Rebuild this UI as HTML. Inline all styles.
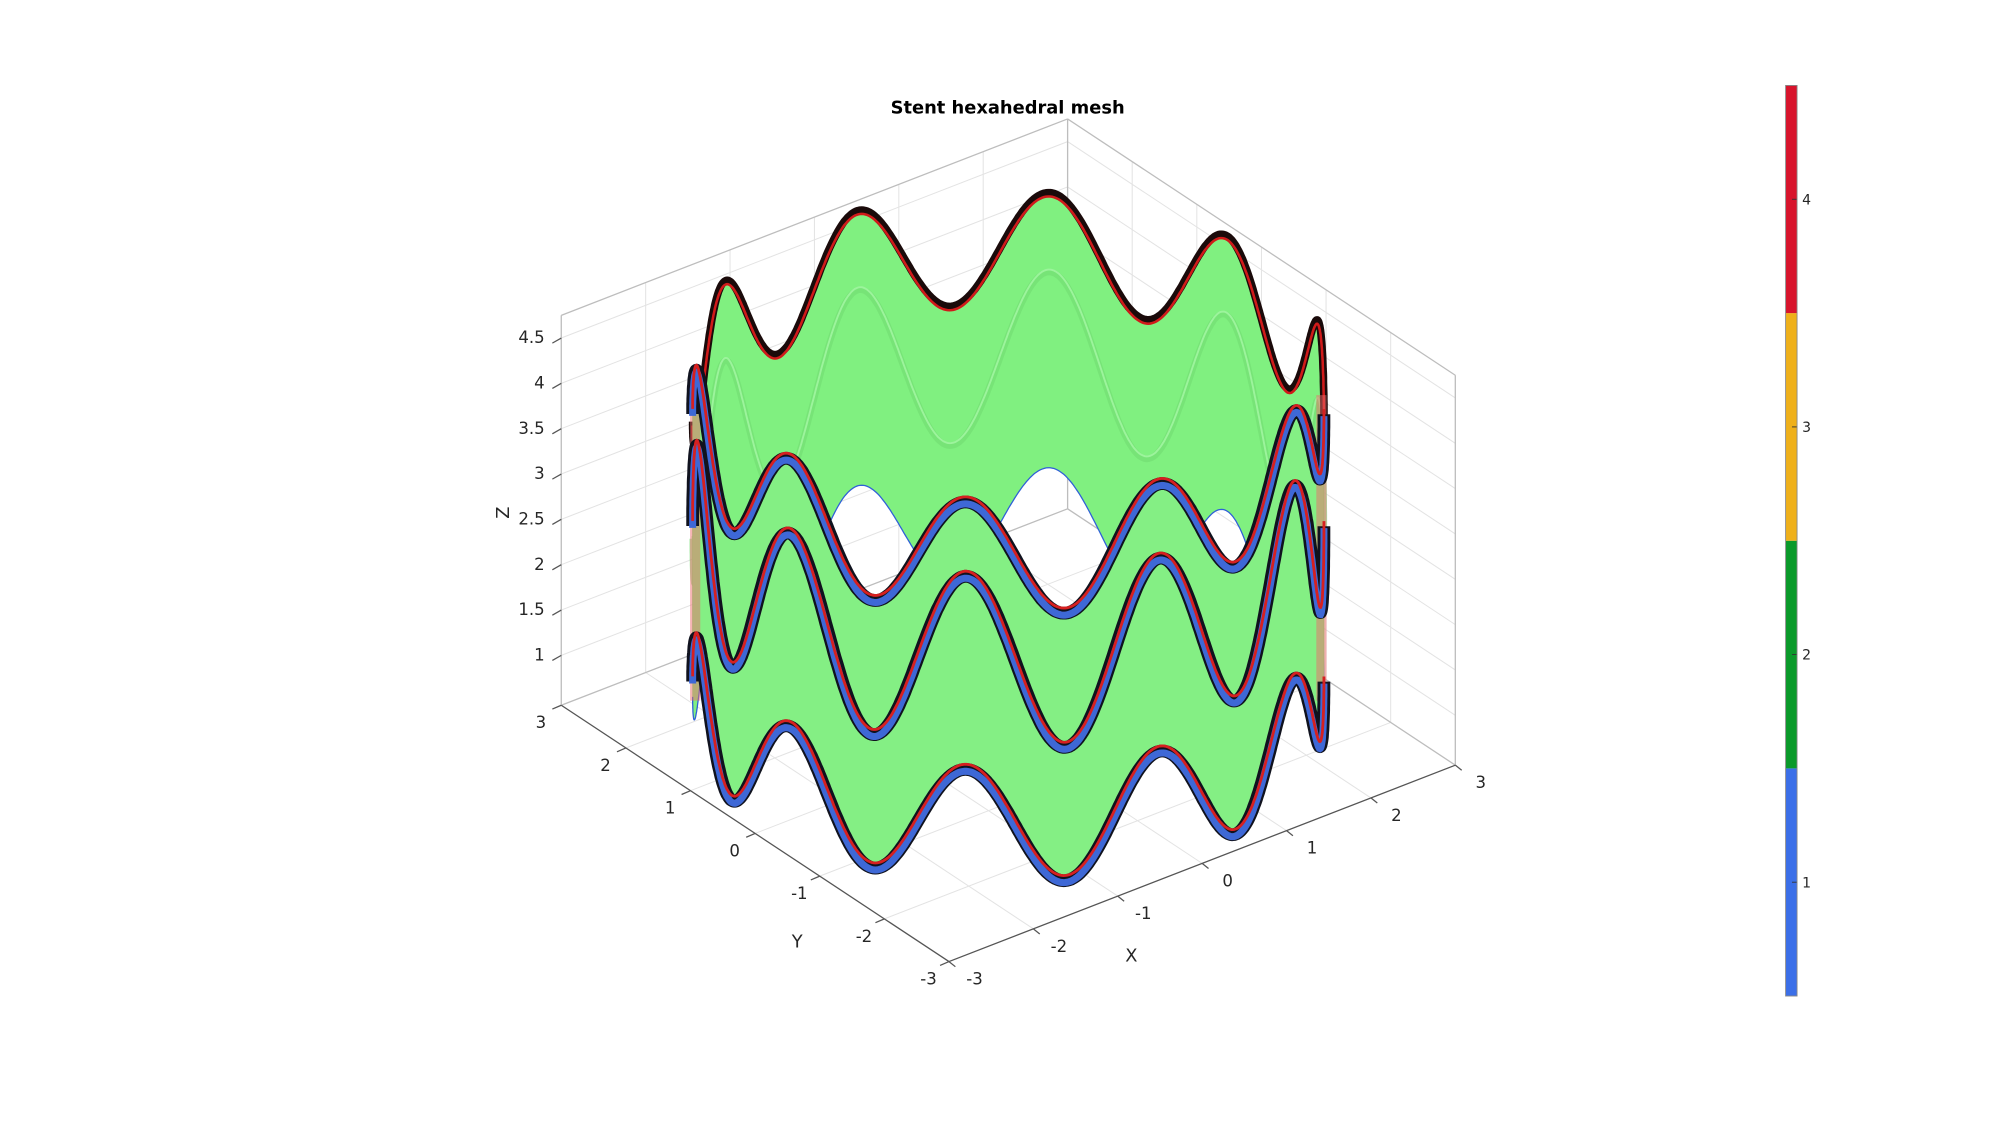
<!DOCTYPE html>
<html><head><meta charset="utf-8"><title>Stent hexahedral mesh</title>
<style>html,body{margin:0;padding:0;background:#fff;}svg{display:block;}</style></head>
<body>
<svg id="fig" width="2000" height="1121" viewBox="0 0 1568 879" xmlns="http://www.w3.org/2000/svg" font-family="'DejaVu Sans','Liberation Sans',sans-serif">
<rect width="1568" height="879" fill="#fff"/>
<g id="axes"></g>
<g id="stent"></g>
<g id="labels"></g>
<text x="790" y="89" text-anchor="middle" font-size="14" font-weight="bold" fill="#000">Stent hexahedral mesh</text>
<g id="cbar"></g>
</svg>
<script>
const xTicks = [-3,-2,-1,0,1,2,3];
const yTicks = [-3,-2,-1,0,1,2,3];
const zTicks = [1,1.5,2,2.5,3,3.5,4,4.5];
const zTickLabels = ['1','1.5','2','2.5','3','3.5','4','4.5'];
const ringZ = [1.2, 3.0, 4.15];
const ringAmp = [0.62, 0.95, 0.62];
const waveCount = [10];
const cbValues = [1,2,3,4];
const cbColors = ['#3b6fe8','#0a9a2a','#efb01a','#d8142c'];

const NS='http://www.w3.org/2000/svg';
const xlim=[-3,3], ylim=[-3,3], zlim=[0.45,4.75];
const O=[744,754], ex=[66.17,-25.67], ey=[-50.67,-33.5], ez=[0,-71.1];
function P(x,y,z){const a=x-xlim[0], b=y-ylim[0], c=z-zlim[0];
  return [O[0]+a*ex[0]+b*ey[0]+c*ez[0], O[1]+a*ex[1]+b*ey[1]+c*ez[1]];}
function mk(tag,attrs,parent){const e=document.createElementNS(NS,tag);for(const k in attrs)e.setAttribute(k,attrs[k]);parent.appendChild(e);return e;}
function line(p,q,st,w,parent,name){const e=mk('line',{x1:p[0],y1:p[1],x2:q[0],y2:q[1],stroke:st,'stroke-width':w},parent);
  
  return e;}

const ax=document.getElementById('axes');
const grid='#e3e3e3', box='#bdbdbd';
zTicks.forEach(z=>{
  line(P(-3,3,z),P(3,3,z),grid,0.8,ax,'z-grid-line');
  line(P(3,3,z),P(3,-3,z),grid,0.8,ax,'z-grid-line');
});
xTicks.forEach(x=>{
  line(P(x,3,zlim[0]),P(x,3,zlim[1]),grid,0.8,ax,'x-grid-line');
  line(P(x,-3,zlim[0]),P(x,3,zlim[0]),grid,0.8,ax,'x-grid-line');
});
yTicks.forEach(y=>{
  line(P(3,y,zlim[0]),P(3,y,zlim[1]),grid,0.8,ax,'y-grid-line');
  line(P(-3,y,zlim[0]),P(3,y,zlim[0]),grid,0.8,ax,'y-grid-line');
});
line(P(-3,3,zlim[1]),P(3,3,zlim[1]),box,1,ax,'box-edge');
line(P(3,3,zlim[1]),P(3,-3,zlim[1]),box,1,ax,'box-edge');
line(P(-3,3,zlim[0]),P(-3,3,zlim[1]),box,1,ax,'box-edge');
line(P(3,3,zlim[0]),P(3,3,zlim[1]),box,1,ax,'box-edge');
line(P(3,-3,zlim[0]),P(3,-3,zlim[1]),box,1,ax,'box-edge');
line(P(-3,3,zlim[0]),P(3,3,zlim[0]),box,1,ax,'box-edge');
line(P(3,3,zlim[0]),P(3,-3,zlim[0]),box,1,ax,'box-edge');
line(P(-3,3,zlim[0]),P(-3,-3,zlim[0]),'#555',1,ax,'y-axis-line');
line(P(-3,-3,zlim[0]),P(3,-3,zlim[0]),'#555',1,ax,'x-axis-line');

const lab=document.getElementById('labels');
function txt(s,x,y,name,anchor,extra){const t=mk('text',Object.assign({x:x,y:y,'font-size':13,fill:'#262626','text-anchor':anchor||'middle'},extra||{}),lab);t.textContent=s;
  
  return t;}
zTicks.forEach((z,i)=>{const p=P(-3,3,z);
  line(p,[p[0]-7,p[1]+4],'#555',1,ax,'z-tick');
  txt(zTickLabels[i],p[0]-13,p[1]+4,'z-tick-label','end');});
xTicks.forEach(x=>{const p=P(x,-3,zlim[0]);
  line(p,[p[0]+5,p[1]+4],'#555',1,ax,'x-tick');
  txt(String(x),p[0]+20,p[1]+18,'x-tick-label','middle');});
yTicks.forEach(y=>{const p=P(-3,y,zlim[0]);
  line(p,[p[0]-7,p[1]+3],'#555',1,ax,'y-tick');
  txt(String(y),p[0]-16,p[1]+18,'y-tick-label','middle');});
txt('X',887,754,'x-axis-title','middle',{'font-size':14});
txt('Y',625,743,'y-axis-title','middle',{'font-size':14});
txt('Z',399,402,'z-axis-title','middle',{'font-size':14,transform:'rotate(-90 399 402)'});

const st=document.getElementById('stent');
const R=2.97, TH0=232.5*Math.PI/180, PH=0.183, N=waveCount[0];
function ringPt(k,phi){const th=phi+TH0;
  const z=ringZ[k]-ringAmp[k]*Math.cos(N*(phi-PH));
  return P(R*Math.cos(th),R*Math.sin(th),z);}
function pts(k,a,b,n,dy){const out=[];for(let i=0;i<=n;i++){const f=a+(b-a)*i/n;const p=ringPt(k,f);out.push([p[0],p[1]+(dy||0)]);}return out;}
function pstr(arr){return arr.map(p=>p[0].toFixed(1)+','+p[1].toFixed(1)).join(' ');}
const H=Math.PI/2, NS_=500;
const bTop=pts(2,H,3*H,NS_,8), bBot=pts(0,3*H,H,NS_,12);
let e=mk('polygon',{points:pstr(bTop.concat(bBot)),fill:'#80f080',stroke:'#78e878','stroke-width':0.5},st);


e=mk('polyline',{points:pstr(pts(0,H,3*H,NS_,12)),fill:'none',stroke:'#2f5fd8','stroke-width':1},st);


e=mk('polyline',{points:pstr(pts(1,H,3*H,NS_,10)),fill:'none',stroke:'#72dc72','stroke-width':5,opacity:0.6},st);


e=mk('polyline',{points:pstr(pts(1,H,3*H,NS_,8)),fill:'none',stroke:'#9cf49c','stroke-width':1.5},st);


e=mk('polyline',{points:pstr(pts(2,H,3*H,NS_,6)),fill:'none',stroke:'#1a0a0a','stroke-width':6,'stroke-linejoin':'round'},st);


e=mk('polyline',{points:pstr(pts(2,H,3*H,NS_,9)),fill:'none',stroke:'#d01a1a','stroke-width':2},st);


const fTop=pts(2,-H,H,NS_), fBot=pts(0,H,-H,NS_);
e=mk('polygon',{points:pstr(fTop.concat(fBot)),fill:'#84ef84',stroke:'#76e076','stroke-width':0.5},st);


[-H,H].forEach((ph,i)=>{const a=ringPt(0,ph), b=ringPt(2,ph);
  const s=mk('rect',{x:a[0]-(i?6:2),y:Math.min(a[1],b[1])-15,width:8,height:Math.abs(a[1]-b[1])+30,fill:'#ee6b6b',opacity:0.5},st);
  
  });
for(let k=0;k<3;k++){
  e=mk('polyline',{points:pstr(pts(k,-H,H,NS_)),fill:'none',stroke:'#10121e','stroke-width':10,'stroke-linejoin':'round'},st);
  
  
  e=mk('polyline',{points:pstr(pts(k,-H,H,NS_,1.5)),fill:'none',stroke:'#3e68d6','stroke-width':5.5},st);
  
  
  e=mk('polyline',{points:pstr(pts(k,-H,H,NS_,-4)),fill:'none',stroke:'#d62020','stroke-width':2.2},st);
  
  
}

const cb=document.getElementById('cbar');
const cbTop=67, cbBot=781, cbX=1400, cbW=9;
const seg=(cbBot-cbTop)/cbValues.length;
cbValues.forEach((v,i)=>{
  const y0=cbBot-(i+1)*seg;
  const r=mk('rect',{x:cbX,y:y0,width:cbW,height:seg,fill:cbColors[i]},cb);
  
  
  const yc=y0+seg/2;
  line([cbX+5,yc],[cbX+cbW,yc],'#333',0.7,cb,'colorbar-tick');
  const t=mk('text',{x:cbX+13,y:yc+4,'font-size':11,fill:'#262626'},cb);t.textContent=String(v);
  
  
});
const fr=mk('rect',{x:cbX,y:cbTop,width:cbW,height:cbBot-cbTop,fill:'none',stroke:'#888','stroke-width':0.7},cb);


</script>
</body></html>
